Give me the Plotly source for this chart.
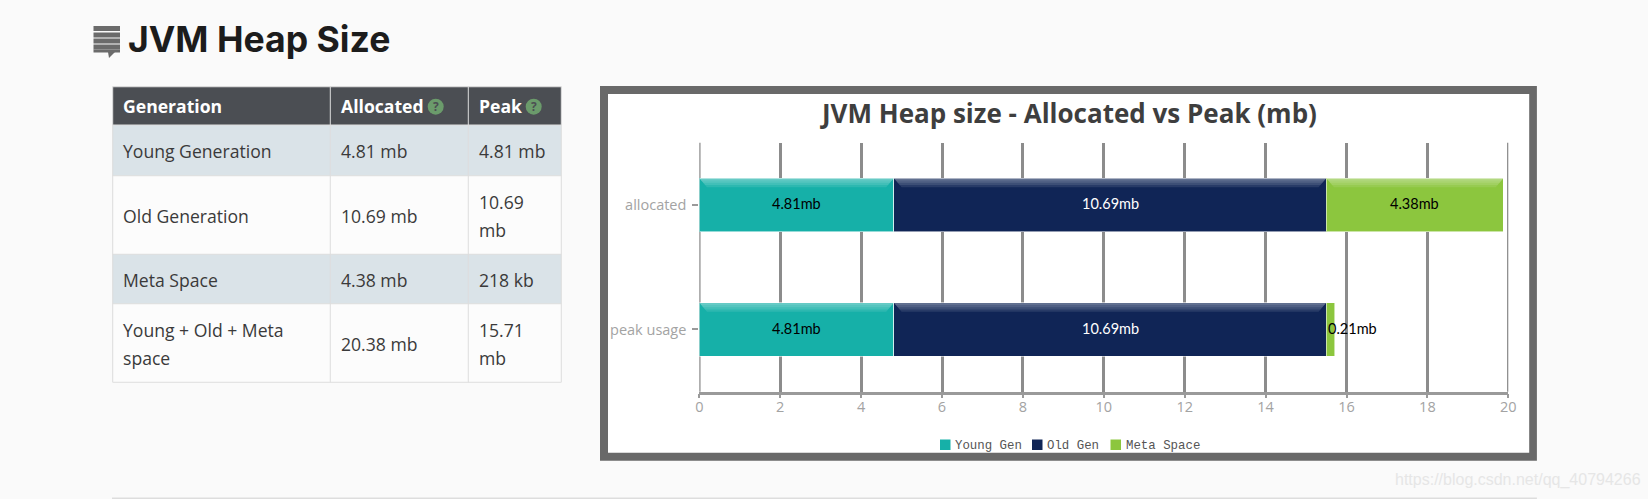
import plotly.graph_objects as go

# ---------- data ----------
categories = ["allocated", "peak usage"]
series_names = ["Young Gen", "Old Gen", "Meta Space"]
young_values = [4.81, 4.81]
old_values = [10.69, 10.69]
meta_values = [4.38, 0.21]
value_labels = [["4.81mb", "4.81mb"], ["10.69mb", "10.69mb"], ["4.38mb", "0.21mb"]]
label_colors = ["#000000", "#ffffff", "#000000"]
series_colors = ["#16b0a8", "#102556", "#8cc63e"]
x_ticks = [0, 2, 4, 6, 8, 10, 12, 14, 16, 18, 20]
table_headers = ["Generation", "Allocated", "Peak"]
table_rows = [
    ["Young Generation", "4.81 mb", "4.81 mb"],
    ["Old Generation", "10.69 mb", "10.69\nmb"],
    ["Meta Space", "4.38 mb", "218 kb"],
    ["Young + Old + Meta\nspace", "20.38 mb", "15.71\nmb"],
]
page_title = "JVM Heap Size"
chart_title = "JVM Heap size - Allocated vs Peak (mb)"
watermark = "https://blog.csdn.net/qq_40794266"

# ---------- page geometry (pixels) ----------
W, H = 1648, 499
PLOT_L, PLOT_R = 699.3, 1508.3
PLOT_T, PLOT_B = 142.7, 391.7
BAR_W = 0.43
COLS = [112.7, 330.3, 468.3, 561.3]
ROWS = [86.7, 125, 175.7, 254.3, 303.7, 382.3]
BG = "#fafafa"
GRID = "#8c8c8c"


def px(x):
    return x / W


def py(y):
    return 1 - y / H


shapes = []
annotations = []


def rect(x0, y0, x1, y1, fill, layer="below"):
    shapes.append(dict(type="rect", xref="paper", yref="paper", x0=px(x0), x1=px(x1),
                       y0=py(y0), y1=py(y1), fillcolor=fill, layer=layer, line=dict(width=0)))


def text(x, y, s, size, color, family="Open Sans", anchor="left", bold=False):
    annotations.append(dict(xref="paper", yref="paper", x=px(x), y=py(y), text=f"<b>{s}</b>" if bold else s,
                            showarrow=False, xanchor=anchor, yanchor="middle",
                            font=dict(size=size, color=color, family=family), borderpad=0, borderwidth=0))


# ---------- page title and icon ----------
for top in (26, 32.5, 38.5, 44.5):
    rect(93.5, top, 120, top + 5, "#6b6b6b")
rect(93.5, 49.5, 120, 52.5, "#6b6b6b")
shapes.append(dict(type="path", xref="paper", yref="paper", layer="below",
                   path=f"M {px(108)} {py(52)} L {px(109)} {py(58)} L {px(115)} {py(52)} Z",
                   fillcolor="#6b6b6b", line=dict(width=0)))
text(128, 40, page_title, 35.6, "#1c1c1c", family="Inter", bold=True)

# ---------- table ----------
rect(COLS[0], ROWS[0], COLS[-1], ROWS[1], "#4b4e53")
for i, row in enumerate(table_rows):
    rect(COLS[0], ROWS[i + 1], COLS[-1], ROWS[i + 2], "#dae3e8" if i % 2 == 0 else "#fcfcfc")
for y in ROWS:
    rect(COLS[0], y - 0.5, COLS[-1], y + 0.5, "#dddddd")
for x in COLS:
    rect(x - 0.5, ROWS[0], x + 0.5, ROWS[-1], "#dddddd")
for j, head in enumerate(table_headers):
    text(COLS[j] + 10.7, (ROWS[0] + ROWS[1]) / 2, head, 17.6, "#ffffff", bold=True)
for cx in (435.7, 533.7):
    shapes.append(dict(type="circle", xref="paper", yref="paper", layer="below",
                       x0=px(cx - 8), x1=px(cx + 8), y0=py(106.7 + 8), y1=py(106.7 - 8),
                       fillcolor="#6b9b6b", line=dict(width=0)))
    text(cx, 106.7, "?", 12, "#4b4e53", anchor="center", bold=True)
for i, row in enumerate(table_rows):
    cy = (ROWS[i + 1] + ROWS[i + 2]) / 2 + 1
    for j, cell in enumerate(row):
        lines = cell.split("\n")
        for k, line in enumerate(lines):
            text(COLS[j] + 10.7, cy + (k - (len(lines) - 1) / 2) * 28.7, line, 17.6, "#3a3a3a")

# ---------- chart frame ----------
rect(600, 86, 1536.9, 460.7, "#696969")
rect(608, 94, 1529.2, 452.7, "#ffffff")
text(1068.5, 113, chart_title, 26, "#3e3e3e", bold=True, anchor="center")

# gridlines at the two ends of the axis, which the axis itself leaves out
for edge in (x_ticks[0], x_ticks[-1]):
    shapes.append(dict(type="line", xref="x", yref="y domain", x0=edge, x1=edge, y0=0, y1=1,
                       layer="below", line=dict(color=GRID, width=2.5)))

# ---------- legend ----------
legend_x = [940, 1032, 1110.5]
for name, color, x in zip(series_names, series_colors, legend_x):
    rect(x, 439.5, x + 10.5, 450, color)
    text(x + 15, 445.5, name, 12.4, "#555555", family="Liberation Mono")

# ---------- bars ----------
series_values = [young_values, old_values, meta_values]
fig = go.Figure()
for name, values, color in zip(series_names, series_values, series_colors):
    fig.add_trace(go.Bar(y=categories, x=values, name=name, orientation="h", width=BAR_W,
                         marker=dict(color=color, line=dict(color="rgba(255,255,255,0.55)", width=1)),
                         showlegend=False))

# bevel highlight + value labels, derived from the data
STRIP = 9 / 124.5
INSET = 0.19
for c in range(len(categories)):
    base = 0.0
    for s, values in enumerate(series_values):
        v = values[c]
        end = base + v
        if v > 1:
            for frac in (1.0, 0.75, 0.5, 0.25):
                d = STRIP * frac
                ii = INSET * frac
                top = c - BAR_W / 2
                shapes.append(dict(type="path", xref="x", yref="y", layer="above",
                                   path=f"M {base} {top} L {end} {top} L {end - ii} {top + d} L {base + ii} {top + d} Z",
                                   fillcolor="rgba(255,255,255,0.1)", line=dict(width=0)))
        narrow = v < 1
        annotations.append(dict(xref="x", yref="y", x=base if narrow else base + v / 2, y=c, yshift=1,
                                text=value_labels[s][c], showarrow=False,
                                xanchor="left" if narrow else "center", yanchor="middle",
                                font=dict(size=14.5, color=label_colors[s], family="Lato")))
        base = end

# ---------- footer ----------
rect(112, 497.5, 1536.9, 499, "#dddddd")
text(1395, 480, watermark, 16, "#e6e6e6", family="Liberation Sans")

fig.update_layout(
    width=W, height=H, autosize=False, margin=dict(l=0, r=0, t=0, b=0, pad=0, autoexpand=False),
    paper_bgcolor=BG, plot_bgcolor="rgba(0,0,0,0)", barmode="stack", showlegend=False,
    xaxis=dict(domain=[px(PLOT_L), px(PLOT_R)], range=[0, 20], tickmode="array", tickvals=x_ticks,
               automargin=False, showgrid=True, gridcolor=GRID, gridwidth=2.5, zeroline=False, showline=True,
               linecolor="#9a9a9a", linewidth=2.5, ticks="outside", ticklen=4, tickwidth=2, ticklabelstandoff=-4,
               tickcolor="#9a9a9a", tickfont=dict(family="Open Sans", size=14.5, color="#a3a3a3"), anchor="y"),
    yaxis=dict(domain=[py(PLOT_B), py(PLOT_T)], type="category", categoryorder="array", categoryarray=categories,
               automargin=False, range=[1.5, -0.5], showgrid=False, zeroline=False, showline=False,
               ticks="outside", ticklen=6, tickwidth=2, tickcolor="#9a9a9a", ticklabelstandoff=3,
               tickfont=dict(family="Open Sans", size=14.5, color="#a3a3a3"), anchor="x"),
    shapes=shapes, annotations=annotations,
)

fig.write_html("out.html", post_script="document.body.style.margin='0';document.body.style.background='#fafafa';",
               config=dict(displayModeBar=False))
